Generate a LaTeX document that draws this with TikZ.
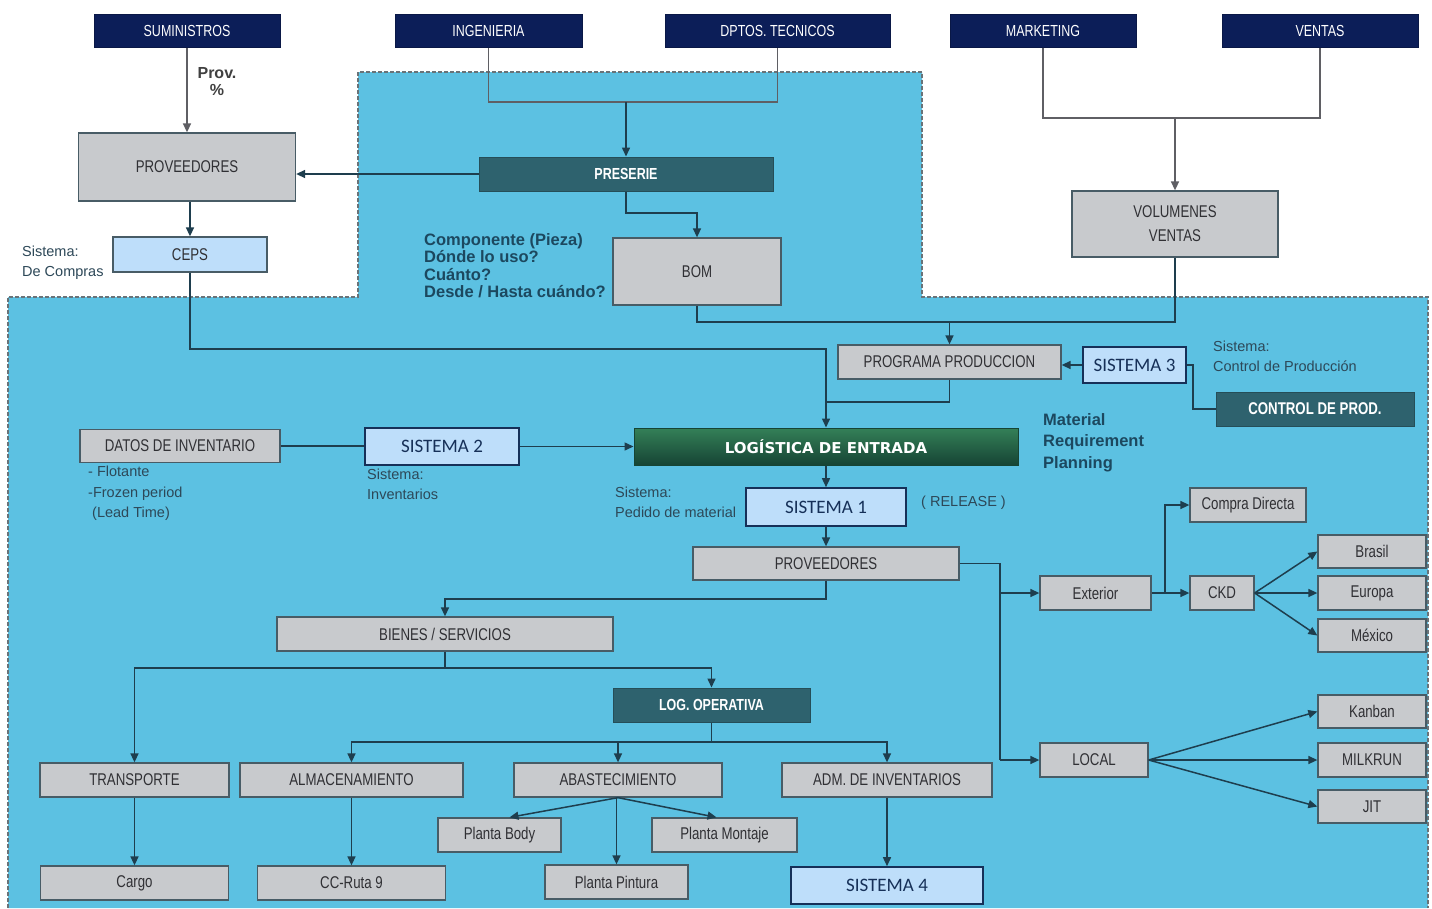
\documentclass[tikz,border=0pt]{standalone}
\usepackage{fontspec}
\setmainfont{Liberation Sans}
\newfontfamily\nrw[FakeStretch=0.78]{Liberation Sans}
\newfontfamily\cbr{Carlito}
\newfontfamily\djv{DejaVu Sans}
\usetikzlibrary{arrows.meta}

\definecolor{bgblue}{RGB}{92,193,226}
\definecolor{navy}{RGB}{12,30,88}
\definecolor{boxgray}{RGB}{200,202,205}
\definecolor{boxline}{RGB}{72,92,102}
\definecolor{lightsys}{RGB}{190,222,250}
\definecolor{sysline}{RGB}{22,48,88}
\definecolor{darkteal}{RGB}{46,98,110}
\definecolor{linec}{RGB}{30,62,78}
\definecolor{toplinec}{RGB}{95,95,100}
\definecolor{labc}{RGB}{45,72,88}
\definecolor{boldc}{RGB}{28,72,95}
\definecolor{greentop}{RGB}{52,128,88}
\definecolor{greenbot}{RGB}{22,68,52}
\definecolor{txtgray}{RGB}{48,48,52}
\definecolor{dashc}{RGB}{105,115,120}

\tikzset{
  gbox/.style={draw=boxline, line width=1.3pt, fill=boxgray, inner sep=0pt,
    text=txtgray, font=\nrw\fontsize{17}{19}\selectfont},
  topbox/.style={draw=navy!80!black, line width=1pt, fill=navy, text=white,
    inner sep=0pt, minimum height=33pt, font=\nrw\fontsize{16}{18}\selectfont},
  sysbox/.style={draw=sysline, line width=1.6pt, fill=lightsys, text=sysline,
    inner sep=0pt, font=\cbr\fontsize{19}{21}\selectfont},
  tealbox/.style={draw=darkteal!80!black, line width=1pt, fill=darkteal, text=white,
    inner sep=0pt, minimum height=34pt, font=\nrw\bfseries\fontsize{16}{18}\selectfont},
  conn/.style={draw=linec, line width=1.5pt},
  topconn/.style={draw=toplinec, line width=1.5pt},
  arr/.style={conn, -{Triangle[length=9pt,width=8pt]}},
  toparr/.style={topconn, -{Triangle[length=9pt,width=8pt]}},
  lab/.style={anchor=north west, inner sep=0pt, align=left, text=labc,
    font=\fontsize{14.5}{20}\selectfont},
  blab/.style={anchor=north west, inner sep=0pt, align=left, text=boldc,
    font=\bfseries\fontsize{16.5}{17.5}\selectfont},
}

\begin{document}
\begin{tikzpicture}[x=1pt, y=-1pt]
\useasboundingbox (0,0) rectangle (1432,908);
\fill[white] (0,0) rectangle (1432,908);

% shaded process area
\fill[bgblue] (8,297) -- (358,297) -- (358,72) -- (922,72) -- (922,297)
  -- (1428,297) -- (1428,908) -- (8,908) -- cycle;
\draw[dashc, line width=1.4pt, dash pattern=on 4pt off 2pt]
  (8,908) -- (8,297) -- (358,297) -- (358,72) -- (922,72) -- (922,297)
  -- (1428,297) -- (1428,908);

% departments
\node[topbox, minimum width=186pt] (sum) at (187,30.5) {SUMINISTROS};
\node[topbox, minimum width=187pt] (ing) at (488.5,30.5) {INGENIERIA};
\node[topbox, minimum width=225pt] (dpt) at (777.5,30.5) {DPTOS. TECNICOS};
\node[topbox, minimum width=186pt] (mkt) at (1043,30.5) {MARKETING};
\node[topbox, minimum width=196pt] (ven) at (1320,30.5) {VENTAS};

% upper block
\node[gbox, minimum width=217pt, minimum height=68pt] (prov1) at (187,167) {PROVEEDORES};
\node[gbox, fill=lightsys, minimum width=154pt, minimum height=35pt] (ceps) at (190,254.5) {CEPS};
\node[tealbox, minimum width=294pt] (pres) at (626,174) {PRESERIE};
\node[gbox, minimum width=168pt, minimum height=67pt] (bom) at (697,271.5) {BOM};
\node[gbox, minimum width=206pt, minimum height=66pt, align=center,
  font=\nrw\fontsize{17}{24}\selectfont] (vol) at (1175,224) {VOLUMENES\\VENTAS};

% production planning
\node[gbox, minimum width=223pt, minimum height=34pt] (prog) at (949.5,362) {PROGRAMA PRODUCCION};
\node[sysbox, minimum width=103pt, minimum height=36pt] (s3) at (1134.5,365) {SISTEMA 3};
\node[tealbox, minimum width=198pt, font=\nrw\bfseries\fontsize{17}{19}\selectfont]
  (ctrl) at (1315,409) {CONTROL DE PROD.};

% inbound logistics
\node[gbox, minimum width=200pt, minimum height=33pt] (datos) at (180,446) {DATOS DE INVENTARIO};
\node[sysbox, minimum width=154pt, minimum height=37pt] (s2) at (442,446.5) {SISTEMA 2};
\node[draw=greenbot, line width=1pt, top color=greentop, bottom color=greenbot,
  minimum width=384pt, minimum height=37pt, inner sep=0pt, text=white,
  font=\djv\bfseries\fontsize{15}{17}\selectfont] (loge) at (826,446.5) {LOGÍSTICA DE ENTRADA};
\node[sysbox, minimum width=160pt, minimum height=38pt] (s1) at (826,507) {SISTEMA 1};
\node[gbox, minimum width=266pt, minimum height=33pt] (prov2) at (826,563.5) {PROVEEDORES};

% goods and services
\node[gbox, minimum width=336pt, minimum height=34pt] (bien) at (445,634) {BIENES / SERVICIOS};
\node[tealbox, minimum width=197pt] (logop) at (711.5,705) {LOG. OPERATIVA};
\node[gbox, minimum width=189pt, minimum height=34pt] (trans) at (134.5,780) {TRANSPORTE};
\node[gbox, minimum width=223pt, minimum height=34pt] (alm) at (351.5,780) {ALMACENAMIENTO};
\node[gbox, minimum width=208pt, minimum height=34pt] (abas) at (618,780) {ABASTECIMIENTO};
\node[gbox, minimum width=210pt, minimum height=34pt] (adm) at (887,780) {ADM. DE INVENTARIOS};
\node[gbox, minimum width=123pt, minimum height=34pt] (body) at (499.5,835) {Planta Body};
\node[gbox, minimum width=145pt, minimum height=34pt] (mont) at (724.5,835) {Planta Montaje};
\node[gbox, minimum width=143pt, minimum height=34pt] (pint) at (616.5,882) {Planta Pintura};
\node[gbox, minimum width=188pt, minimum height=34pt] (cargo) at (134.5,883) {Cargo};
\node[gbox, minimum width=188pt, minimum height=34pt] (ccr) at (351.5,883) {CC-Ruta 9};
\node[sysbox, minimum width=192pt, minimum height=37pt] (s4) at (887,885.5) {SISTEMA 4};

% supplier routes
\node[gbox, minimum width=111pt, minimum height=34pt] (ext) at (1095.5,593) {Exterior};
\node[gbox, minimum width=64pt, minimum height=34pt] (ckd) at (1222,593) {CKD};
\node[gbox, minimum width=116pt, minimum height=34pt] (cd) at (1248,505) {Compra Directa};
\node[gbox, minimum width=108pt, minimum height=33pt] (bra) at (1372,551.5) {Brasil};
\node[gbox, minimum width=108pt, minimum height=34pt] (eur) at (1372,593) {Europa};
\node[gbox, minimum width=108pt, minimum height=33pt] (mex) at (1372,635.5) {México};
\node[gbox, minimum width=108pt, minimum height=34pt] (loc) at (1094,760) {LOCAL};
\node[gbox, minimum width=108pt, minimum height=33pt] (kan) at (1372,711.5) {Kanban};
\node[gbox, minimum width=108pt, minimum height=34pt] (mil) at (1372,760) {MILKRUN};
\node[gbox, minimum width=108pt, minimum height=33pt] (jit) at (1372,806.5) {JIT};

% side notes
\node[anchor=north, inner sep=0pt, align=center, text=black!75,
  font=\bfseries\fontsize{16}{17}\selectfont] (provpct) at (217,67) {Prov.\\\%};
\node[lab] (n1) at (22,246) {Sistema:\\De Compras};
\node[blab] (n2) at (424,233) {Componente (Pieza)\\Dónde lo uso?\\Cuánto?\\Desde / Hasta cuándo?};
\node[lab] (n3) at (1213,341) {Sistema:\\Control de Producción};
\node[blab, font=\bfseries\fontsize{16.5}{21.5}\selectfont] (n4) at (1043,413) {Material\\Requirement\\Planning};
\node[lab, font=\fontsize{14.5}{20.5}\selectfont] (n5) at (88,466) {- Flotante\\-Frozen period\\\ (Lead Time)};
\node[lab] (n6) at (367,469) {Sistema:\\Inventarios};
\node[lab] (n7) at (615,487) {Sistema:\\Pedido de material};
\node[lab, anchor=west] (n8) at (921,503) {( RELEASE )};

% junction points
\coordinate (j1) at (626,102);
\coordinate (j2) at (626,213);
\coordinate (j3) at (826,349);
\coordinate (j4) at (697,322);
\coordinate (j5) at (1175,118);
\coordinate (j6) at (826,402);
\coordinate (j7) at (1193,365);
\coordinate (j8) at (445,599);
\coordinate (j9) at (1000,760);
\coordinate (j10) at (1165,593);
\coordinate (j11) at (445,668);
\coordinate (j12) at (711.5,742);

% connectors, upper block
\draw[toparr] (sum.south) -- (prov1.north);
\draw[topconn] (ing.south) |- (j1) -| (dpt.south);
\draw[arr] (j1) -- (pres.north);
\draw[arr] (pres.west) -- (pres.west -| prov1.east);
\draw[arr] (pres.south) -- (j2) -| (bom.north);
\draw[arr] (ceps.north |- prov1.south) -- (ceps.north);
\draw[topconn] (mkt.south) |- (j5) -| (ven.south);
\draw[toparr] (j5) -- (vol.north);
\draw[conn] (bom.south) |- (j4) -| (vol.south);
\draw[arr] (prog.north |- j4) -- (prog.north);

% connectors, planning and inbound logistics
\draw[arr] (ceps.south) |- (j3) -- (loge.north);
\draw[conn] (prog.south) |- (j6);
\draw[arr] (s3.west) -- (s3.west -| prog.east);
\draw[conn] (s3.east) -- (j7) |- (ctrl.west);
\draw[conn] (datos.east) -- (datos.east -| s2.west);
\draw[arr] (s2.east) -- (loge.west);
\draw[arr] (loge.south) -- (s1.north);
\draw[arr] (s1.south) -- (prov2.north);

% connectors, supplier routes
\draw[conn] (prov2.east) -| (j9);
\draw[arr] (j9) -- (loc.west);
\draw[arr] (j9 |- ext.west) -- (ext.west);
\draw[arr] (ext.east) -- (ckd.west);
\draw[arr] (j10) |- (cd.west);
\draw[arr] (ckd.east) -- (bra.west);
\draw[arr] (ckd.east) -- (eur.west);
\draw[arr] (ckd.east) -- (mex.west);
\draw[arr] (loc.east) -- (kan.west);
\draw[arr] (loc.east) -- (mil.west);
\draw[arr] (loc.east) -- (jit.west);

% connectors, operative logistics
\draw[arr] (prov2.south) |- (j8) -- (bien.north);
\draw[arr] (bien.south) -- (j11) -| (trans.north);
\draw[arr] (j11) -| (logop.north);
\draw[conn] (logop.south) -- (j12);
\draw[arr] (j12) -| (alm.north);
\draw[arr] (j12) -| (adm.north);
\draw[arr] (abas.north |- j12) -- (abas.north);
\draw[arr] (trans.south) -- (cargo.north);
\draw[arr] (alm.south) -- (ccr.north);
\draw[arr] (abas.south) -- ([xshift=10pt]body.north);
\draw[arr] (abas.south) -- ([xshift=-8pt]mont.north);
\draw[arr] (abas.south -| pint.north) -- (pint.north);
\draw[arr] (adm.south) -- (s4.north);
\end{tikzpicture}
\end{document}
